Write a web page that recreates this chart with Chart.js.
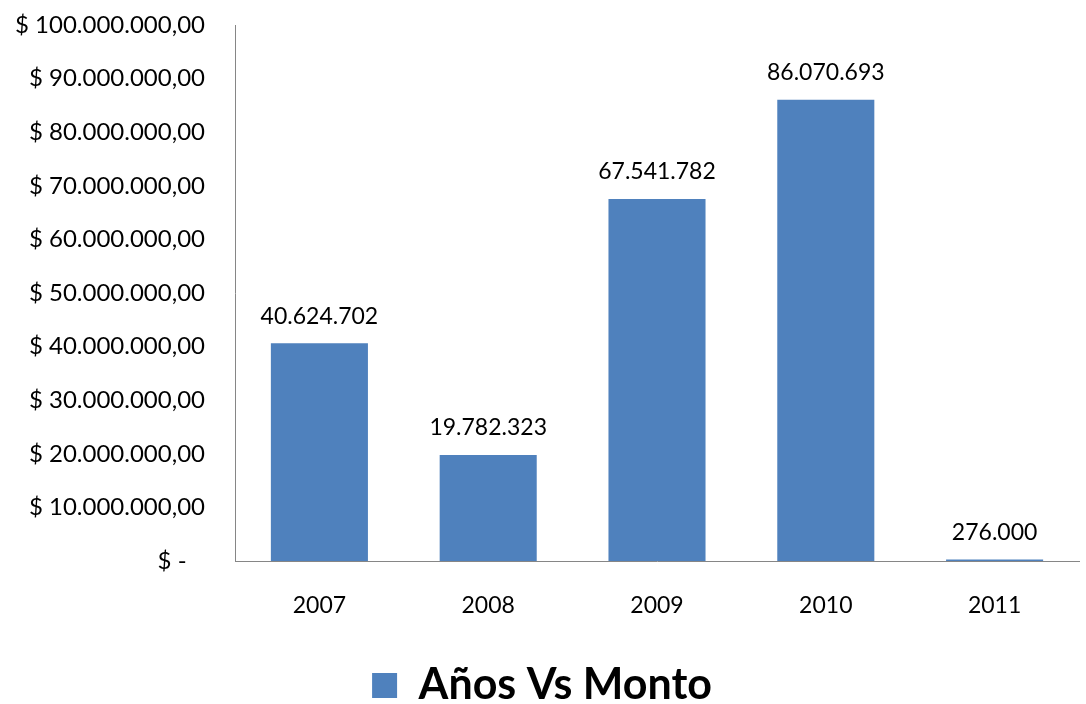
<!DOCTYPE html>
<html>
<head>
<meta charset="utf-8">
<script src="https://cdn.jsdelivr.net/npm/chart.js@4"></script>
<style>
  html, body { margin: 0; padding: 0; background: #fff; }
  #wrap { width: 1086px; height: 704px; }
</style>
</head>
<body>
<div id="wrap"><canvas id="montoChart" width="1086" height="704"></canvas></div>
<script>
// Datos
const anios = ['2007', '2008', '2009', '2010', '2011'];
const montos = [40624702, 19782323, 67541782, 86070693, 276000];
const serieNombre = 'Años Vs Monto';
const ejeMax = 100000000;
const ejePaso = 10000000;

function miles(n) {
    return Math.round(n).toString().replace(/\B(?=(\d{3})+(?!\d))/g, '.');
}

// Etiquetas encima de cada barra
const etiquetasBarras = {
    id: 'etiquetasBarras',
    afterDatasetsDraw(chart) {
        const ctx = chart.ctx;
        const meta = chart.getDatasetMeta(0);
        ctx.save();
        ctx.font = '23px Lato';
        ctx.fillStyle = '#000';
        ctx.textAlign = 'center';
        ctx.textBaseline = 'middle';
        meta.data.forEach(function(bar, i) {
            ctx.fillText(miles(montos[i]), bar.x, bar.y - 27);
        });
        ctx.restore();
    }
};

document.addEventListener('DOMContentLoaded', function() {
    const ctx = document.getElementById('montoChart').getContext('2d');
    new Chart(ctx, {
        type: 'bar',
        data: {
            labels: anios,
            datasets: [{
                label: serieNombre,
                data: montos,
                backgroundColor: '#4F81BD',
                borderWidth: 0,
                barPercentage: 0.575,
                categoryPercentage: 1
            }]
        },
        options: {
            responsive: false,
            animation: false,
            layout: { padding: { left: 5, right: 7, top: 25, bottom: -13 } },
            scales: {
                y: {
                    min: 0,
                    max: ejeMax,
                    afterFit: function(scale) {
                        scale.width = 230;
                        scale.paddingTop = 12;
                        scale.paddingBottom = 12;
                    },
                    grid: { display: false },
                    border: { display: true, color: '#868686', width: 1 },
                    ticks: {
                        stepSize: ejePaso,
                        padding: 22,
                        color: '#000',
                        font: { family: 'Lato', size: 24 },
                        callback: function(value) {
                            if (value === 0) return '$ -   ';
                            return '$ ' + miles(value) + ',00';
                        }
                    }
                },
                x: {
                    afterFit: function(scale) { scale.height = 103; },
                    grid: { display: false },
                    border: { display: true, color: '#868686', width: 1 },
                    ticks: {
                        padding: 23,
                        color: '#000',
                        font: { family: 'Lato', size: 23 }
                    }
                }
            },
            plugins: {
                legend: {
                    position: 'bottom',
                    labels: {
                        color: '#000',
                        boxWidth: 25,
                        boxHeight: 25,
                        padding: 0,
                        font: { family: 'Lato', size: 43, weight: 'bold' }
                    }
                },
                tooltip: { enabled: false }
            }
        },
        plugins: [etiquetasBarras]
    });
});
</script>
</body>
</html>
